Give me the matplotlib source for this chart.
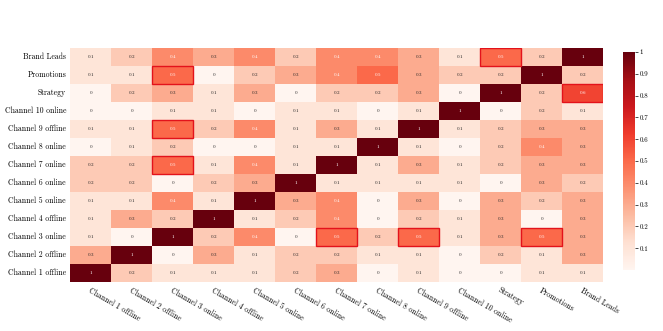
import numpy as np
import matplotlib
matplotlib.use('Agg')
import matplotlib.pyplot as plt
import seaborn as sns
from matplotlib.patches import Rectangle

plt.rcParams['font.family'] = ['cmr10', 'DejaVu Serif']
plt.rcParams['axes.formatter.use_mathtext'] = True

col_labels = ['Channel 1 offline', 'Channel 2 offline', 'Channel 3 online', 'Channel 4 offline',
              'Channel 5 online', 'Channel 6 online', 'Channel 7 online', 'Channel 8 online',
              'Channel 9 offline', 'Channel 10 online', 'Strategy', 'Promotions', 'Brand Leads']
# rows listed top to bottom, as drawn
row_labels = col_labels[::-1]

brand_leads = [0.1, 0.2, 0.4, 0.3, 0.4, 0.2, 0.4, 0.4, 0.3, 0.1, 0.5, 0.2, 1]
promotions = [0.1, 0.1, 0.5, 0, 0.2, 0.3, 0.4, 0.5, 0.3, 0.2, 0.2, 1, 0.2]
strategy = [0, 0.2, 0.3, 0.1, 0.3, 0, 0.2, 0.2, 0.3, 0, 1, 0.2, 0.6]
ch10_online = [0, 0, 0.1, 0.1, 0, 0.1, 0.1, 0, 0.1, 1, 0, 0.2, 0.1]
ch9_offline = [0.1, 0.1, 0.5, 0.2, 0.4, 0.1, 0.3, 0.1, 1, 0.1, 0.2, 0.3, 0.3]
ch8_online = [0, 0.1, 0.2, 0, 0, 0.1, 0.1, 1, 0.1, 0, 0.2, 0.4, 0.3]
ch7_online = [0.2, 0.2, 0.5, 0.1, 0.4, 0.1, 1, 0.1, 0.3, 0.1, 0.2, 0.3, 0.3]
ch6_online = [0.2, 0.2, 0, 0.2, 0.3, 1, 0.1, 0.1, 0.1, 0.1, 0, 0.3, 0.2]
ch5_online = [0.1, 0.1, 0.4, 0.1, 1, 0.3, 0.4, 0, 0.3, 0, 0.3, 0.2, 0.3]
ch4_offline = [0.1, 0.3, 0.2, 1, 0.1, 0.2, 0.4, 0, 0.2, 0.1, 0.3, 0, 0.3]
ch3_online = [0.1, 0, 1, 0.2, 0.4, 0, 0.5, 0.2, 0.5, 0.1, 0.3, 0.5, 0.3]
ch2_offline = [0.3, 1, 0, 0.3, 0.1, 0.2, 0.2, 0.1, 0.1, 0, 0.2, 0.1, 0.3]
ch1_offline = [1, 0.2, 0.1, 0.1, 0.1, 0.2, 0.3, 0, 0.1, 0, 0, 0.1, 0.1]

matrix = np.array([brand_leads, promotions, strategy, ch10_online, ch9_offline, ch8_online,
                   ch7_online, ch6_online, ch5_online, ch4_offline, ch3_online, ch2_offline,
                   ch1_offline])

# (row, column) pairs outlined in red
highlighted = [('Brand Leads', 'Strategy'), ('Strategy', 'Brand Leads'),
               ('Promotions', 'Channel 3 online'), ('Channel 9 offline', 'Channel 3 online'),
               ('Channel 7 online', 'Channel 3 online'), ('Channel 3 online', 'Channel 7 online'),
               ('Channel 3 online', 'Channel 9 offline'), ('Channel 3 online', 'Promotions')]

colorbar_ticks = [0.1, 0.2, 0.3, 0.4, 0.5, 0.6, 0.7, 0.8, 0.9, 1]

fig = plt.figure(figsize=(6.63, 3.31), dpi=100)
ax = fig.add_axes([0.106, 0.148, 0.804, 0.707])
cax = fig.add_axes([0.939, 0.184, 0.019, 0.659])

sns.heatmap(matrix, ax=ax, cbar_ax=cax, cmap='Reds', vmin=0, vmax=1,
            annot=True, fmt='g', annot_kws={'fontsize': 3.6},
            xticklabels=col_labels, yticklabels=row_labels,
            cbar_kws={'ticks': colorbar_ticks})

for r, c in highlighted:
    i = row_labels.index(r)
    j = col_labels.index(c)
    ax.add_patch(Rectangle((j, i), 1, 1, fill=False, edgecolor='#e3121b', linewidth=1.0))

ax.tick_params(length=0, pad=3)
ax.set_yticklabels(row_labels, rotation=0, fontsize=5.6)
ax.set_xticklabels(col_labels, rotation=-30, ha='left', va='top',
                   rotation_mode='anchor', fontsize=5.6)

cbar = ax.collections[0].colorbar
cbar.set_ticklabels([f'{t:g}' for t in colorbar_ticks])
cbar.outline.set_visible(False)
cax.tick_params(labelsize=5, length=2, width=0.5, pad=1)

fig.savefig('out.png', dpi=100)
